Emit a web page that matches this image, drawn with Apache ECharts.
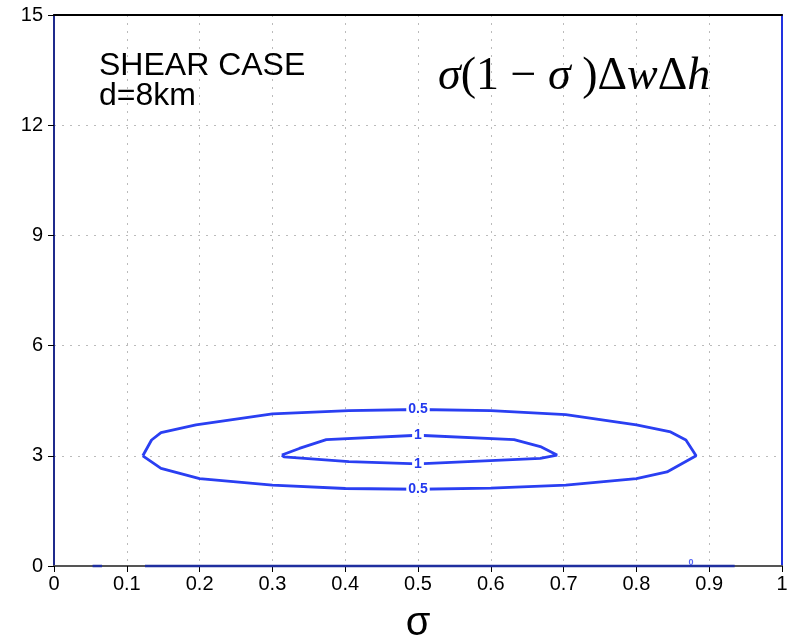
<!DOCTYPE html>
<html>
<head>
<meta charset="utf-8">
<script src="https://cdn.jsdelivr.net/npm/echarts@6/dist/echarts.min.js"></script>
<style>html,body{margin:0;padding:0;background:#fff;}#c{width:787px;height:641px;}</style>
</head>
<body>
<div id="c"></div>
<script>
// contour 0.5 (outer), closed loop [sigma, height]
const contour05 = [[0.122,3.0],[0.134,3.43],[0.147,3.63],[0.195,3.84],[0.3,4.14],[0.405,4.23],[0.5,4.26],[0.6,4.23],[0.703,4.12],[0.8,3.84],[0.847,3.65],[0.868,3.43],[0.882,3.0],[0.842,2.56],[0.8,2.38],[0.703,2.2],[0.6,2.12],[0.5,2.09],[0.4,2.11],[0.3,2.2],[0.2,2.38],[0.147,2.66],[0.122,3.0]];
// contour 1 (inner)
const contour1 = [[0.313,3.02],[0.337,3.2],[0.374,3.44],[0.5,3.56],[0.632,3.44],[0.668,3.25],[0.691,3.02],[0.668,2.93],[0.5,2.78],[0.405,2.84],[0.316,2.97],[0.313,3.02]];
// zero contour pieces along the bottom
const contour0a = [[0.125,0],[0.935,0]];
const contour0b = [[0.053,0],[0.066,0]];
// contour labels [sigma, height, text]
const contourLabels = [[0.5,4.26,'0.5'],[0.5,3.56,'1'],[0.5,2.78,'1'],[0.5,2.09,'0.5']];
const zeroLabels = [[0.875,0.1,'0']];

const blue = '#2a3ff2';
const chart = echarts.init(document.getElementById('c'));
chart.setOption({
  animation: false,
  backgroundColor: '#fff',
  grid: {left: 54, right: 5, top: 15, bottom: 75, outerBoundsMode: 'none', containLabel: false},
  xAxis: [{
    type: 'value', min: 0, max: 1, interval: 0.1,
    name: 'σ', nameLocation: 'middle', nameGap: 38,
    nameTextStyle: {fontFamily: 'Liberation Sans', fontSize: 40, color: '#000'},
    axisLine: {show: true, lineStyle: {color: '#555', width: 2}},
    axisTick: {show: true, length: 6, lineStyle: {color: '#000', width: 1}},
    axisLabel: {fontFamily: 'Liberation Sans', fontSize: 20, color: '#000', margin: 8},
    splitLine: {show: true, lineStyle: {type: [2, 6], color: '#bbb', width: 1}}
  }, {
    type: 'value', min: 0, max: 1, position: 'top',
    axisLine: {show: true, onZero: false, lineStyle: {color: '#000', width: 2}},
    axisTick: {show: false}, axisLabel: {show: false}, splitLine: {show: false}
  }],
  yAxis: [{
    type: 'value', min: 0, max: 15, interval: 3,
    axisLine: {show: true, lineStyle: {color: '#1f2a8c', width: 2}},
    axisTick: {show: true, length: 6, lineStyle: {color: '#000', width: 1}},
    axisLabel: {fontFamily: 'Liberation Sans', fontSize: 20, color: '#000', margin: 11},
    splitLine: {show: true, lineStyle: {type: [2, 6], color: '#bbb', width: 1}}
  }, {
    type: 'value', min: 0, max: 15, position: 'right',
    axisLine: {show: true, onZero: false, lineStyle: {color: '#2233e0', width: 2}},
    axisTick: {show: false}, axisLabel: {show: false}, splitLine: {show: false}
  }],
  series: [
    {type: 'line', data: contour05, showSymbol: false, symbol: 'none', lineStyle: {color: blue, width: 2.8}, z: 3},
    {type: 'line', data: contour1, showSymbol: false, symbol: 'none', lineStyle: {color: blue, width: 2.8}, z: 3},
    {type: 'line', data: contour0a, showSymbol: false, symbol: 'none', clip: false, lineStyle: {color: '#1f2f9f', width: 2.5}, z: 4},
    {type: 'line', data: contour0b, showSymbol: false, symbol: 'none', clip: false, lineStyle: {color: '#1f2f9f', width: 2.5}, z: 4},
    {type: 'scatter', data: contourLabels, symbolSize: 0, z: 5,
      itemStyle: {opacity: 1},
      label: {show: true, position: 'inside', formatter: p => p.value[2],
        fontFamily: 'Liberation Sans', fontWeight: 'bold', fontSize: 14, color: '#2238ee',
        backgroundColor: '#fff', padding: [0, 2]}},
    {type: 'scatter', data: zeroLabels, symbolSize: 0, z: 5,
      label: {show: true, position: 'inside', formatter: p => p.value[2],
        fontFamily: 'Liberation Sans', fontWeight: 'bold', fontSize: 9, color: blue}}
  ],
  graphic: [
    {type: 'text', left: 99, top: 50, z: 10,
      style: {text: 'SHEAR CASE\nd=8km', fontFamily: 'Liberation Sans', fontSize: 32, lineHeight: 30, fill: '#000'}},
    {type: 'text', left: 438, top: 54, z: 10,
      style: {
        text: '{i|σ}{u|(1 − }{i|σ}{u| )Δ}{i|w}{u|Δ}{i|h}',
        rich: {
          u: {fontFamily: 'Liberation Serif', fontSize: 46, fill: '#000'},
          i: {fontFamily: 'Liberation Serif', fontStyle: 'italic', fontSize: 46, fill: '#000'}
        }
      }}
  ]
});
</script>
</body>
</html>
